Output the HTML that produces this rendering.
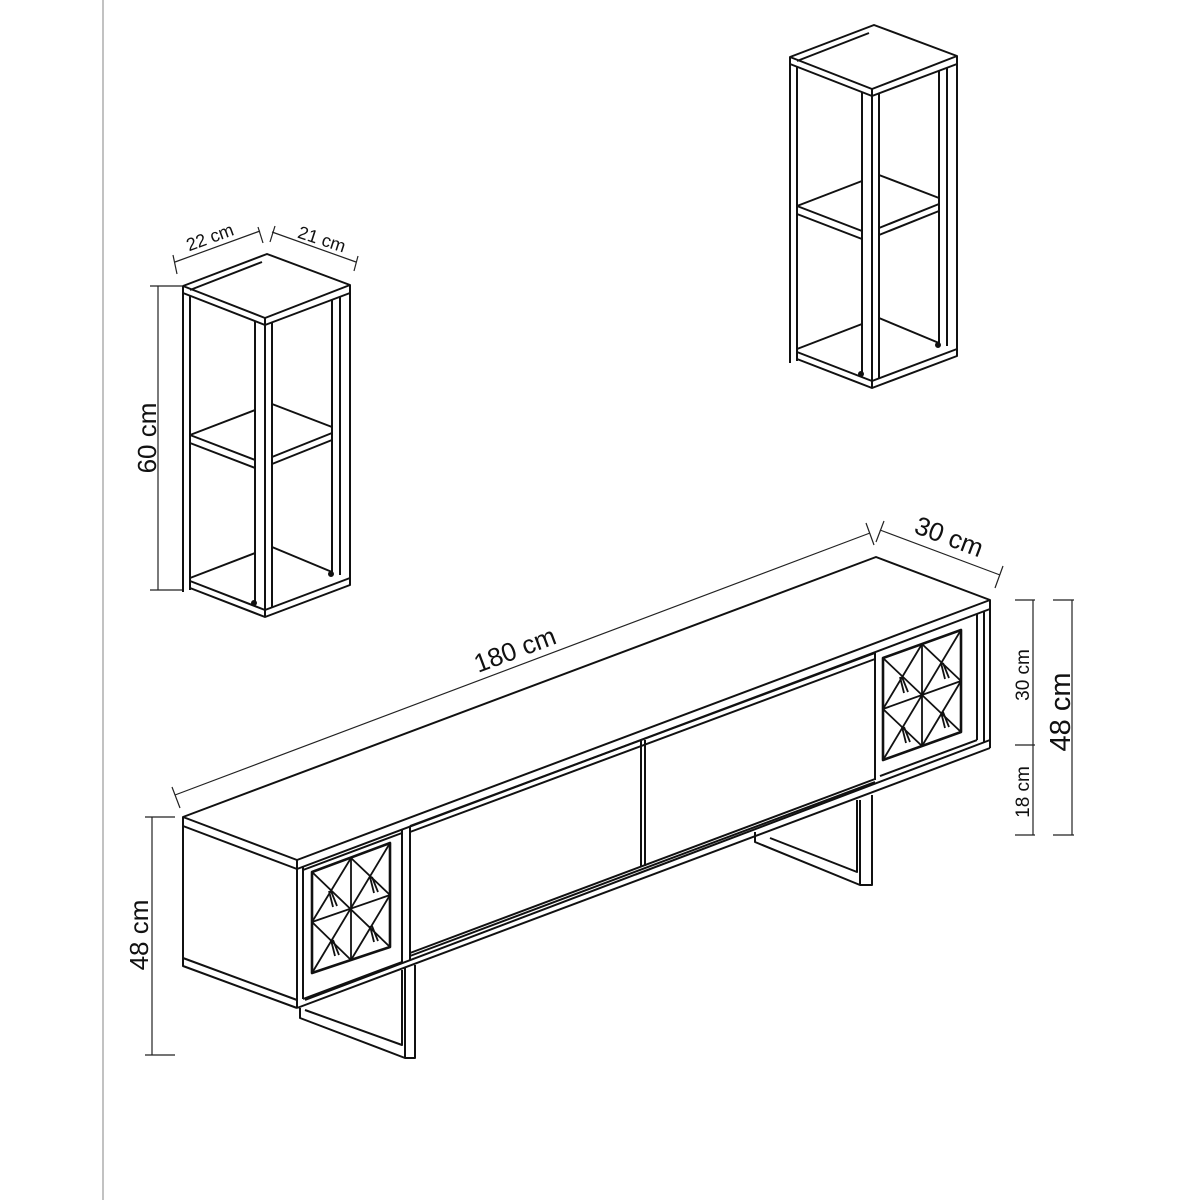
<!DOCTYPE html>
<html><head><meta charset="utf-8"><style>html,body{margin:0;padding:0;background:#fff}svg{display:block}</style></head>
<body>
<svg width="1200" height="1200" viewBox="0 0 1200 1200" xmlns="http://www.w3.org/2000/svg" font-family="'Liberation Sans','DejaVu Sans',sans-serif">
<rect width="1200" height="1200" fill="#fff"/>
<line x1="103" y1="0" x2="103" y2="1200" stroke="#999" stroke-width="1.2"/>

<defs>
<g id="shelf" fill="none" stroke="#111" stroke-width="2" stroke-linejoin="round">
  <polygon points="183,286 267,254 350,285 265,318" fill="#fff"/>
  <polyline points="183,286 183,293 265,325 350,293 350,285"/>
  <line x1="265" y1="318" x2="265" y2="325"/>
  <line x1="190" y1="290" x2="262" y2="262"/>
  <line x1="183" y1="293" x2="183" y2="592"/>
  <line x1="190" y1="296" x2="190" y2="590"/>
  <line x1="255" y1="321" x2="255" y2="605"/>
  <line x1="265" y1="325" x2="265" y2="610"/>
  <line x1="272" y1="322" x2="272" y2="607"/>
  <line x1="332" y1="300" x2="332" y2="572"/>
  <line x1="340" y1="297" x2="340" y2="575"/>
  <line x1="350" y1="293" x2="350" y2="580"/>
  <polyline points="190,435 255,410"/>
  <polyline points="190,435 255,460 255,468 190,443"/>
  <polyline points="272,404 332,427"/>
  <polyline points="272,457 332,433 332,440 272,464"/>
  <polyline points="190,578 255,553"/>
  <polyline points="272,547 332,572"/>
  <polyline points="190,581 265,610 350,578"/>
  <polyline points="190,588 265,617 350,585 350,578"/>
  <line x1="265" y1="610" x2="265" y2="617"/>
  <circle cx="254" cy="603" r="2" fill="#111"/>
  <circle cx="331" cy="574" r="2" fill="#111"/>
</g>
</defs>

<use href="#shelf"/>
<use href="#shelf" transform="translate(607,-229)"/>

<g stroke="#222" stroke-width="1.2" fill="none">
  <line x1="158" y1="286" x2="158" y2="590"/>
  <line x1="150" y1="286" x2="182" y2="286"/>
  <line x1="150" y1="590" x2="182" y2="590"/>
  <line x1="175" y1="262" x2="260" y2="231"/>
  <line x1="173" y1="255" x2="177" y2="274"/>
  <line x1="258" y1="227" x2="263" y2="243"/>
  <line x1="272" y1="232" x2="356" y2="262"/>
  <line x1="275" y1="226" x2="270" y2="242"/>
  <line x1="358" y1="256" x2="354" y2="271"/>
</g>
<g fill="#111">
  <text x="0" y="0" font-size="26" text-anchor="middle" transform="translate(156,438) rotate(-90)">60 cm</text>
  <text x="0" y="0" font-size="18" text-anchor="middle" transform="translate(212,243) rotate(-20)">22 cm</text>
  <text x="0" y="0" font-size="18" text-anchor="middle" transform="translate(320,245) rotate(18)">21 cm</text>
</g>

<g fill="none" stroke="#111" stroke-width="2" stroke-linejoin="round">
  <polyline points="300,1008 300,1018 405,1058 415,1058 415,965"/>
  <line x1="405" y1="1058" x2="405" y2="968"/>
  <polyline points="305,1010 402,1045 402,970"/>
  <polyline points="755,832 755,842 860,885 872,885 872,795"/>
  <line x1="860" y1="885" x2="860" y2="800"/>
  <polyline points="770,838 857,872 857,800"/>
  <polygon points="183,817 876,557 990,600 297,860" fill="#fff"/>
  <polyline points="183,817 183,826 297,869 990,609 990,600"/>
  <line x1="297" y1="860" x2="297" y2="869"/>
  <line x1="183" y1="826" x2="183" y2="960"/>
  <polyline points="183,958 297,1000"/>
  <polyline points="183,958 183,966 297,1008"/>
  <line x1="297" y1="869" x2="297" y2="1008"/>
  <line x1="297" y1="1008" x2="990" y2="748"/>
  <line x1="305" y1="1000" x2="990" y2="740"/>
  <line x1="990" y1="609" x2="990" y2="748"/>
  <line x1="303" y1="866" x2="303" y2="999"/>
  <line x1="402" y1="829" x2="402" y2="962"/>
  <line x1="410" y1="826" x2="410" y2="960"/>
  <line x1="303" y1="999" x2="402" y2="962"/>
  <line x1="303" y1="870" x2="402" y2="833"/>
  <line x1="410" y1="826" x2="875" y2="653"/>
  <line x1="410" y1="832" x2="875" y2="659"/>
  <line x1="410" y1="953" x2="875" y2="779"/>
  <line x1="410" y1="956" x2="875" y2="782"/>
  <line x1="641" y1="741" x2="641" y2="867"/>
  <line x1="645" y1="740" x2="645" y2="866"/>
  <line x1="875" y1="653" x2="875" y2="780"/>
  <line x1="977" y1="614" x2="977" y2="740"/>
  <line x1="984" y1="612" x2="984" y2="742"/>
  <line x1="880" y1="776" x2="977" y2="740"/>
</g>
<!-- glass left -->
<g fill="none" stroke="#111" stroke-width="1.8" stroke-linejoin="round">
  <polygon points="312,872 390,843 390,947 312,973" stroke-width="2.6"/>
  <line x1="351" y1="858" x2="351" y2="960"/>
  <line x1="312" y1="922" x2="390" y2="895"/>
  <line x1="312" y1="872" x2="390" y2="947"/>
  <line x1="390" y1="843" x2="312" y2="973"/>
  <polygon points="351,858 312,922 351,960 390,895"/>
  <polyline points="329,891 333,907"/><polyline points="331,891 337,906"/>
  <polyline points="370,877 374,893"/><polyline points="372,877 378,892"/>
  <polyline points="331,940 335,956"/><polyline points="333,940 339,955"/>
  <polyline points="370,926 374,942"/><polyline points="372,926 378,941"/>
</g>
<!-- glass right -->
<g fill="none" stroke="#111" stroke-width="1.8" stroke-linejoin="round">
  <polygon points="883,658 961,630 961,732 883,760" stroke-width="2.6"/>
  <line x1="922" y1="644" x2="922" y2="746"/>
  <line x1="883" y1="709" x2="961" y2="681"/>
  <line x1="883" y1="658" x2="961" y2="732"/>
  <line x1="961" y1="630" x2="883" y2="760"/>
  <polygon points="922,644 883,709 922,746 961,681"/>
  <polyline points="900,677 904,693"/><polyline points="902,677 908,692"/>
  <polyline points="941,663 945,679"/><polyline points="943,663 949,678"/>
  <polyline points="902,727 906,743"/><polyline points="904,727 910,742"/>
  <polyline points="941,712 945,728"/><polyline points="943,712 949,727"/>
</g>

<g stroke="#222" stroke-width="1.2" fill="none">
  <line x1="175" y1="795" x2="870" y2="533"/>
  <line x1="172" y1="787" x2="180" y2="808"/>
  <line x1="866" y1="523" x2="874" y2="545"/>
  <line x1="880" y1="530" x2="1000" y2="575"/>
  <line x1="884" y1="521" x2="876" y2="542"/>
  <line x1="1003" y1="566" x2="995" y2="588"/>
  <line x1="152" y1="817" x2="152" y2="1055"/>
  <line x1="145" y1="817" x2="175" y2="817"/>
  <line x1="145" y1="1055" x2="175" y2="1055"/>
  <line x1="1033" y1="600" x2="1033" y2="835"/>
  <line x1="1015" y1="600" x2="1035" y2="600"/>
  <line x1="1015" y1="745" x2="1035" y2="745"/>
  <line x1="1015" y1="835" x2="1035" y2="835"/>
  <line x1="1072" y1="600" x2="1072" y2="835"/>
  <line x1="1053" y1="600" x2="1074" y2="600"/>
  <line x1="1053" y1="835" x2="1074" y2="835"/>
</g>
<g fill="#111">
  <text font-size="26" text-anchor="middle" transform="translate(518,658) rotate(-20.6)">180 cm</text>
  <text font-size="26" text-anchor="middle" transform="translate(946,545) rotate(20.6)">30 cm</text>
  <text font-size="26" text-anchor="middle" transform="translate(148,935) rotate(-90)">48 cm</text>
  <text font-size="19" text-anchor="middle" transform="translate(1029,675) rotate(-90)">30 cm</text>
  <text font-size="19" text-anchor="middle" transform="translate(1029,792) rotate(-90)">18 cm</text>
  <text font-size="29" text-anchor="middle" transform="translate(1070,712) rotate(-90)">48 cm</text>
</g>
</svg>
</body></html>
